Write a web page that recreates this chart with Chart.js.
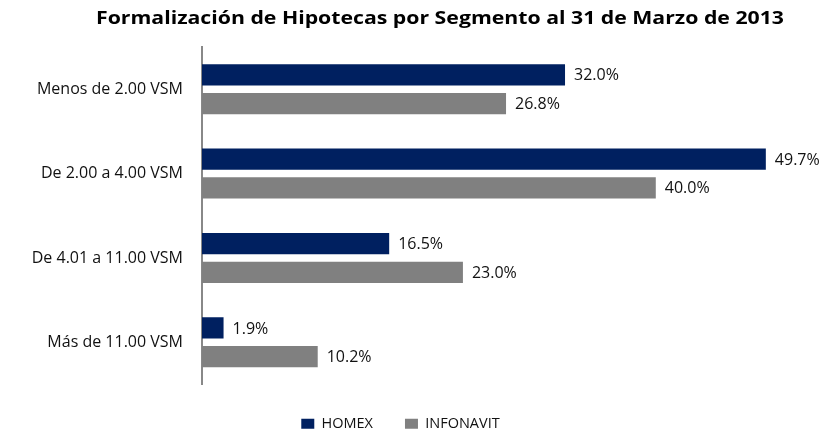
<!DOCTYPE html>
<html><head><meta charset="utf-8">
<script src="https://cdn.jsdelivr.net/npm/chart.js@4"></script>
<style>html,body{margin:0;padding:0;background:#fff}#wrap{width:831px;height:431px}</style>
</head><body><div id="wrap"><canvas id="c"></canvas></div>
<script>
const titleText = 'Formalización de Hipotecas por Segmento al 31 de Marzo de 2013';
const categories = ['Menos de 2.00 VSM', 'De 2.00 a 4.00 VSM', 'De 4.01 a 11.00 VSM', 'Más de 11.00 VSM'];
const homex = [32.0, 49.7, 16.5, 1.9];
const infonavit = [26.8, 40.0, 23.0, 10.2];
const seriesNames = ['HOMEX', 'INFONAVIT'];
const FONT = "'Open Sans', sans-serif";

const titlePlugin = {
  id: 'customTitle',
  afterDraw(chart) {
    const ctx = chart.ctx;
    ctx.save();
    ctx.font = 'bold 18px ' + FONT;
    ctx.fillStyle = '#000';
    ctx.textAlign = 'center';
    ctx.textBaseline = 'alphabetic';
    const w = ctx.measureText(titleText).width;
    const target = 688;
    ctx.translate(440, 24);
    ctx.scale(target / w, 1);
    ctx.fillText(titleText, 0, 0);
    ctx.restore();
  }
};
const labelPlugin = {
  id: 'barLabels',
  afterDatasetsDraw(chart) {
    const ctx = chart.ctx;
    ctx.save();
    ctx.font = '16px ' + FONT;
    ctx.fillStyle = '#111';
    ctx.textAlign = 'left';
    ctx.textBaseline = 'middle';
    chart.data.datasets.forEach((ds, i) => {
      chart.getDatasetMeta(i).data.forEach((bar, j) => {
        ctx.fillText(ds.data[j].toFixed(1) + '%', bar.x + 9, bar.y + 1);
      });
    });
    ctx.restore();
  }
};

new Chart(document.getElementById('c'), {
  type: 'bar',
  data: {
    labels: categories,
    datasets: [
      { label: seriesNames[0], data: homex, backgroundColor: '#002060', borderColor: '#002060', categoryPercentage: 0.68, barPercentage: 0.74 },
      { label: seriesNames[1], data: infonavit, backgroundColor: '#808080', borderColor: '#808080', categoryPercentage: 0.68, barPercentage: 0.74 }
    ]
  },
  options: {
    indexAxis: 'y',
    responsive: true,
    maintainAspectRatio: false,
    animation: false,
    layout: { padding: { top: 47, right: 30, left: 0, bottom: -10 } },
    plugins: {
      title: { display: false },
      tooltip: { enabled: false },
      legend: {
        position: 'bottom',
        labels: { font: { family: FONT, size: 14.5 }, color: '#111', boxWidth: 13, boxHeight: 10, padding: 32 }
      }
    },
    scales: {
      x: { display: false, min: 0, max: 52.8 },
      y: {
        grid: { display: false },
        border: { display: true, color: '#888', width: 2 },
        ticks: { font: { family: FONT, size: 16 }, color: '#111', padding: 11 },
        afterFit(scale) { scale.width = 202; }
      }
    }
  },
  plugins: [titlePlugin, labelPlugin]
});
</script></body></html>
